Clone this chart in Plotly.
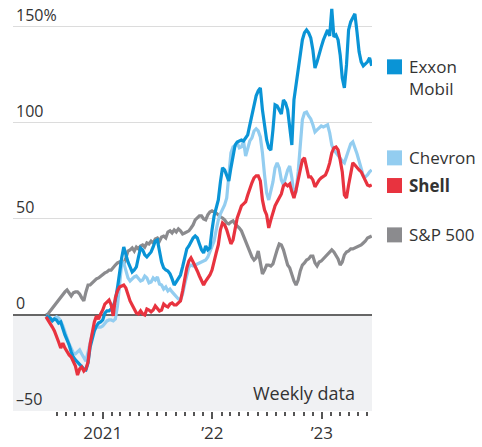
import pandas as pd
import plotly.graph_objects as go

# Weekly data, % change since late June 2020
start_date = "2020-06-26"
n_weeks = 156

exxon = [
    -0.5, -1.0, -1.6, -3.1, -2.1, -2.6, -4.2, -3.6, -7.3, -10.4,
    -13.0, -15.6, -19.3, -21.9, -23.4, -24.5, -25.5, -26.6, -28.1, -28.6,
    -25.0, -16.7, -11.5, -8.3, -5.7, -4.2, -3.6, -2.6, 1.0, 2.1,
    2.1, 3.1, 4.7, 7.8, 14.1, 22.4, 29.7, 35.4, 31.3, 27.6,
    25.0, 22.4, 23.4, 25.0, 30.2, 34.9, 33.9, 31.3, 30.2, 31.3,
    32.8, 35.4, 38.5, 39.1, 33.9, 27.6, 24.5, 23.4, 22.9, 21.4,
    18.8, 15.6, 17.2, 18.8, 20.8, 25.0, 30.7, 34.4, 35.9, 38.0,
    40.1, 41.1, 40.1, 37.0, 33.9, 32.3, 35.9, 33.9, 34.9, 44.3,
    51.6, 55.7, 59.9, 69.3, 76.6, 75.5, 72.4, 69.8, 76.6, 83.3,
    88.5, 90.1, 90.6, 91.1, 90.6, 92.2, 93.8, 99.0, 104.7, 109.9,
    114.1, 116.7, 118.2, 106.8, 99.0, 91.1, 87.0, 85.9, 96.4, 109.4,
    108.8, 106.8, 104.7, 112.0, 110.4, 106.8, 99.0, 88.5, 112.0, 119.8,
    126.6, 137.0, 143.2, 146.9, 148.4, 146.9, 144.3, 138.0, 128.6, 131.8,
    136.5, 139.6, 143.2, 146.4, 148.4, 145.3, 159.4, 144.8, 145.8, 143.2,
    135.4, 123.4, 118.2, 130.2, 148.4, 152.6, 154.7, 156.8, 147.4, 137.0,
    131.8, 129.7, 130.7, 131.8, 133.9, 129.7,
]

chevron = [
    -0.5, -1.0, -1.6, -2.6, -1.6, -1.0, -1.6, -3.1, -5.7, -9.4,
    -12.0, -15.1, -17.7, -19.8, -20.3, -19.3, -18.2, -20.3, -22.4, -24.0,
    -19.3, -13.5, -9.9, -7.8, -6.3, -6.3, -6.3, -5.7, -4.2, -3.1,
    -2.6, -2.6, -3.1, -2.1, 4.7, 15.6, 26.6, 27.1, 23.4, 19.3,
    17.7, 18.8, 19.8, 20.3, 18.8, 17.7, 18.2, 20.3, 19.3, 16.7,
    17.2, 19.3, 18.2, 19.8, 16.1, 15.6, 13.5, 14.6, 12.5, 13.5,
    12.0, 10.9, 9.4, 8.3, 7.8, 10.9, 16.1, 21.4, 25.0, 26.0,
    25.5, 26.0, 26.6, 27.1, 27.6, 28.1, 28.6, 30.2, 32.8, 34.9,
    38.5, 44.3, 49.5, 52.6, 54.7, 57.3, 60.9, 71.4, 84.4, 87.5,
    88.0, 89.6, 87.0, 87.5, 90.6, 82.8, 87.5, 90.6, 92.2, 95.8,
    96.9, 95.8, 92.7, 84.4, 72.9, 63.5, 59.9, 64.1, 69.3, 76.6,
    79.2, 76.6, 70.3, 67.7, 71.4, 75.5, 77.6, 71.4, 62.5, 64.1,
    74.5, 91.1, 101.6, 105.2, 105.7, 103.6, 102.1, 99.0, 95.3, 96.4,
    97.4, 98.4, 97.9, 98.4, 99.0, 94.8, 88.5, 85.9, 84.4, 83.3,
    81.8, 80.2, 79.2, 82.3, 85.9, 89.1, 90.1, 87.5, 83.9, 80.2,
    75.5, 72.4, 71.9, 72.9, 74.5, 75.5,
]

shell = [
    -1.0, -2.6, -4.2, -6.3, -8.3, -10.9, -14.1, -17.2, -14.6, -17.2,
    -19.3, -20.8, -21.9, -24.0, -26.6, -31.3, -28.1, -27.1, -29.2, -28.1,
    -24.5, -15.1, -9.9, -3.6, -0.5, -2.1, 0.5, 2.6, 5.7, 6.8,
    7.8, 5.2, -0.5, 8.9, 12.5, 14.6, 15.1, 15.6, 14.1, 9.9,
    7.3, 5.2, 2.6, 1.0, 0.5, 2.1, 0.5, 0.0, 3.1, 2.6,
    1.6, 2.6, 4.7, 3.1, 2.1, 2.6, 5.7, 4.7, 4.2, 5.7,
    6.3, 5.2, 5.2, 6.3, 7.3, 12.5, 18.8, 24.5, 28.1, 29.7,
    27.6, 25.5, 22.9, 20.3, 18.2, 15.6, 17.7, 19.3, 20.8, 23.4,
    28.6, 32.3, 36.5, 44.3, 47.9, 46.9, 44.3, 40.1, 37.0, 39.1,
    44.3, 50.5, 53.6, 56.8, 57.8, 58.9, 62.5, 66.1, 68.8, 71.4,
    72.4, 72.4, 69.8, 59.9, 54.7, 52.1, 45.3, 49.5, 53.1, 56.8,
    58.9, 60.9, 63.0, 67.2, 68.2, 67.2, 68.2, 64.1, 60.9, 65.1,
    70.3, 74.0, 80.7, 81.8, 77.1, 71.9, 71.9, 70.3, 66.7, 68.8,
    70.3, 71.4, 72.4, 72.9, 75.5, 79.2, 84.4, 87.0, 87.5, 85.9,
    80.7, 74.5, 62.5, 60.9, 67.7, 74.5, 79.2, 78.1, 76.6, 75.5,
    74.5, 71.9, 69.8, 67.7, 67.2, 67.7,
]

sp500 = [
    0.0, 0.5, 2.1, 3.6, 4.7, 6.3, 7.8, 9.4, 10.9, 12.0,
    13.0, 11.5, 9.9, 11.5, 12.0, 12.0, 10.9, 8.9, 7.3, 12.0,
    15.6, 15.6, 16.7, 17.7, 18.8, 19.3, 20.3, 20.8, 21.9, 22.4,
    23.4, 23.4, 25.0, 26.0, 27.1, 27.6, 26.6, 26.6, 29.7, 33.3,
    33.9, 34.9, 33.3, 35.4, 34.4, 35.9, 36.5, 35.4, 37.5, 37.0,
    38.5, 37.5, 39.6, 40.1, 38.5, 40.6, 41.1, 40.1, 43.2, 43.8,
    42.7, 44.3, 43.2, 44.8, 43.8, 42.2, 42.7, 43.2, 43.8, 45.3,
    46.9, 49.5, 50.5, 51.6, 51.6, 50.0, 49.5, 52.1, 53.6, 54.2,
    53.6, 53.1, 52.1, 51.0, 50.5, 49.5, 47.9, 47.4, 48.4, 49.0,
    47.4, 46.4, 45.3, 43.8, 41.1, 38.0, 35.4, 32.8, 30.2, 28.6,
    29.7, 33.3, 27.6, 21.4, 23.4, 26.0, 26.0, 25.5, 26.6, 30.7,
    33.9, 37.0, 36.5, 33.9, 29.7, 26.0, 24.5, 20.8, 17.7, 15.6,
    18.2, 22.9, 26.0, 27.1, 28.6, 29.2, 30.7, 30.7, 27.1, 25.5,
    27.6, 28.1, 29.2, 30.2, 31.8, 32.8, 33.9, 32.8, 31.3, 29.2,
    26.0, 27.6, 31.3, 32.8, 33.3, 34.4, 34.4, 34.9, 35.4, 35.9,
    36.5, 37.5, 38.5, 40.1, 40.6, 41.1,
]

series_names = ["S&P 500", "Chevron", "Exxon Mobil", "Shell"]
series_colors = ["#8b8b8e", "#93cdf0", "#0a94d6", "#e8333f"]

legend_labels = ["Exxon<br>Mobil", "Chevron", "<b>Shell</b>", "S&P 500"]
legend_colors = ["#0a94d6", "#93cdf0", "#e8333f", "#8b8b8e"]
legend_y = [129.2, 81.8, 67.4, 41.7]
legend_yshift = [-11, 0, 0, 0]

y_tickvals = [-50, 0, 50, 100, 150]
y_ticktext = ["\u201350", "0", "50", "100", "150%"]
year_tickvals = ["2021-01-01", "2022-01-01", "2023-01-01"]
year_ticktext = ["2021", "\u201922", "\u201923"]
month_ticks = [d.strftime("%Y-%m-%d") for d in pd.date_range("2020-07-01", "2023-06-01", freq="MS")
               if d.month != 1]

dates = pd.date_range(start_date, periods=n_weeks, freq="7D")
values = {"S&P 500": sp500, "Chevron": chevron, "Exxon Mobil": exxon, "Shell": shell}

FONT = "Open Sans"
TEXT = "#333333"

fig = go.Figure()
for name, color in zip(series_names, series_colors):
    fig.add_trace(go.Scatter(
        x=dates, y=values[name], mode="lines", name=name,
        line=dict(color=color, width=3.2), showlegend=False,
    ))

# shaded area below zero
fig.add_shape(type="rect", xref="x domain", yref="y", x0=0, x1=1, y0=-50, y1=0,
              fillcolor="#f0f1f3", line=dict(width=0), layer="below")

# legend squares + labels
for lab, col, yv, ys in zip(legend_labels, legend_colors, legend_y, legend_yshift):
    fig.add_shape(type="rect", xref="paper", yref="y", xsizemode="pixel", ysizemode="pixel",
                  xanchor=1, yanchor=yv, x0=15, x1=30, y0=-7.5, y1=7.5,
                  fillcolor=col, line=dict(width=0))
    fig.add_annotation(xref="paper", yref="y", x=1, y=yv, xanchor="left", yanchor="middle",
                       xshift=35, yshift=ys, text=lab, showarrow=False, align="left",
                       font=dict(family=FONT, size=17, color=TEXT))

fig.add_annotation(xref="paper", yref="y", x=1, y=-50, xanchor="right", yanchor="bottom",
                   xshift=-15, yshift=4, text="Weekly data", showarrow=False,
                   font=dict(family=FONT, size=18, color=TEXT))

fig.update_layout(
    width=482, height=447,
    margin=dict(l=13, r=110, t=0, b=36),
    paper_bgcolor="white", plot_bgcolor="white",
    font=dict(family=FONT, size=16, color=TEXT),
    xaxis=dict(
        type="date", range=["2020-03-08", "2023-06-17"],
        showgrid=False, zeroline=False, showline=False,
        tickmode="array", tickvals=year_tickvals, ticktext=year_ticktext,
        ticks="outside", ticklen=7, tickwidth=1.5, tickcolor="#555555",
        tickfont=dict(family=FONT, size=17, color=TEXT),
        minor=dict(tickmode="array", tickvals=month_ticks, ticks="outside",
                   ticklen=4, tickwidth=1.5, tickcolor="#555555", showgrid=False),
        automargin=False,
    ),
    yaxis=dict(
        range=[-50, 164],
        tickmode="array", tickvals=y_tickvals, ticktext=y_ticktext,
        ticklabelposition="inside top", ticks="",
        showgrid=True, gridcolor="#dcdcdc", gridwidth=1,
        zeroline=True, zerolinecolor="#666666", zerolinewidth=2,
        showline=False,
        tickfont=dict(family=FONT, size=16, color=TEXT),
        automargin=False,
    ),
)

fig.write_html("out.html", config={"displayModeBar": False},
               post_script="document.body.style.margin='0';")
